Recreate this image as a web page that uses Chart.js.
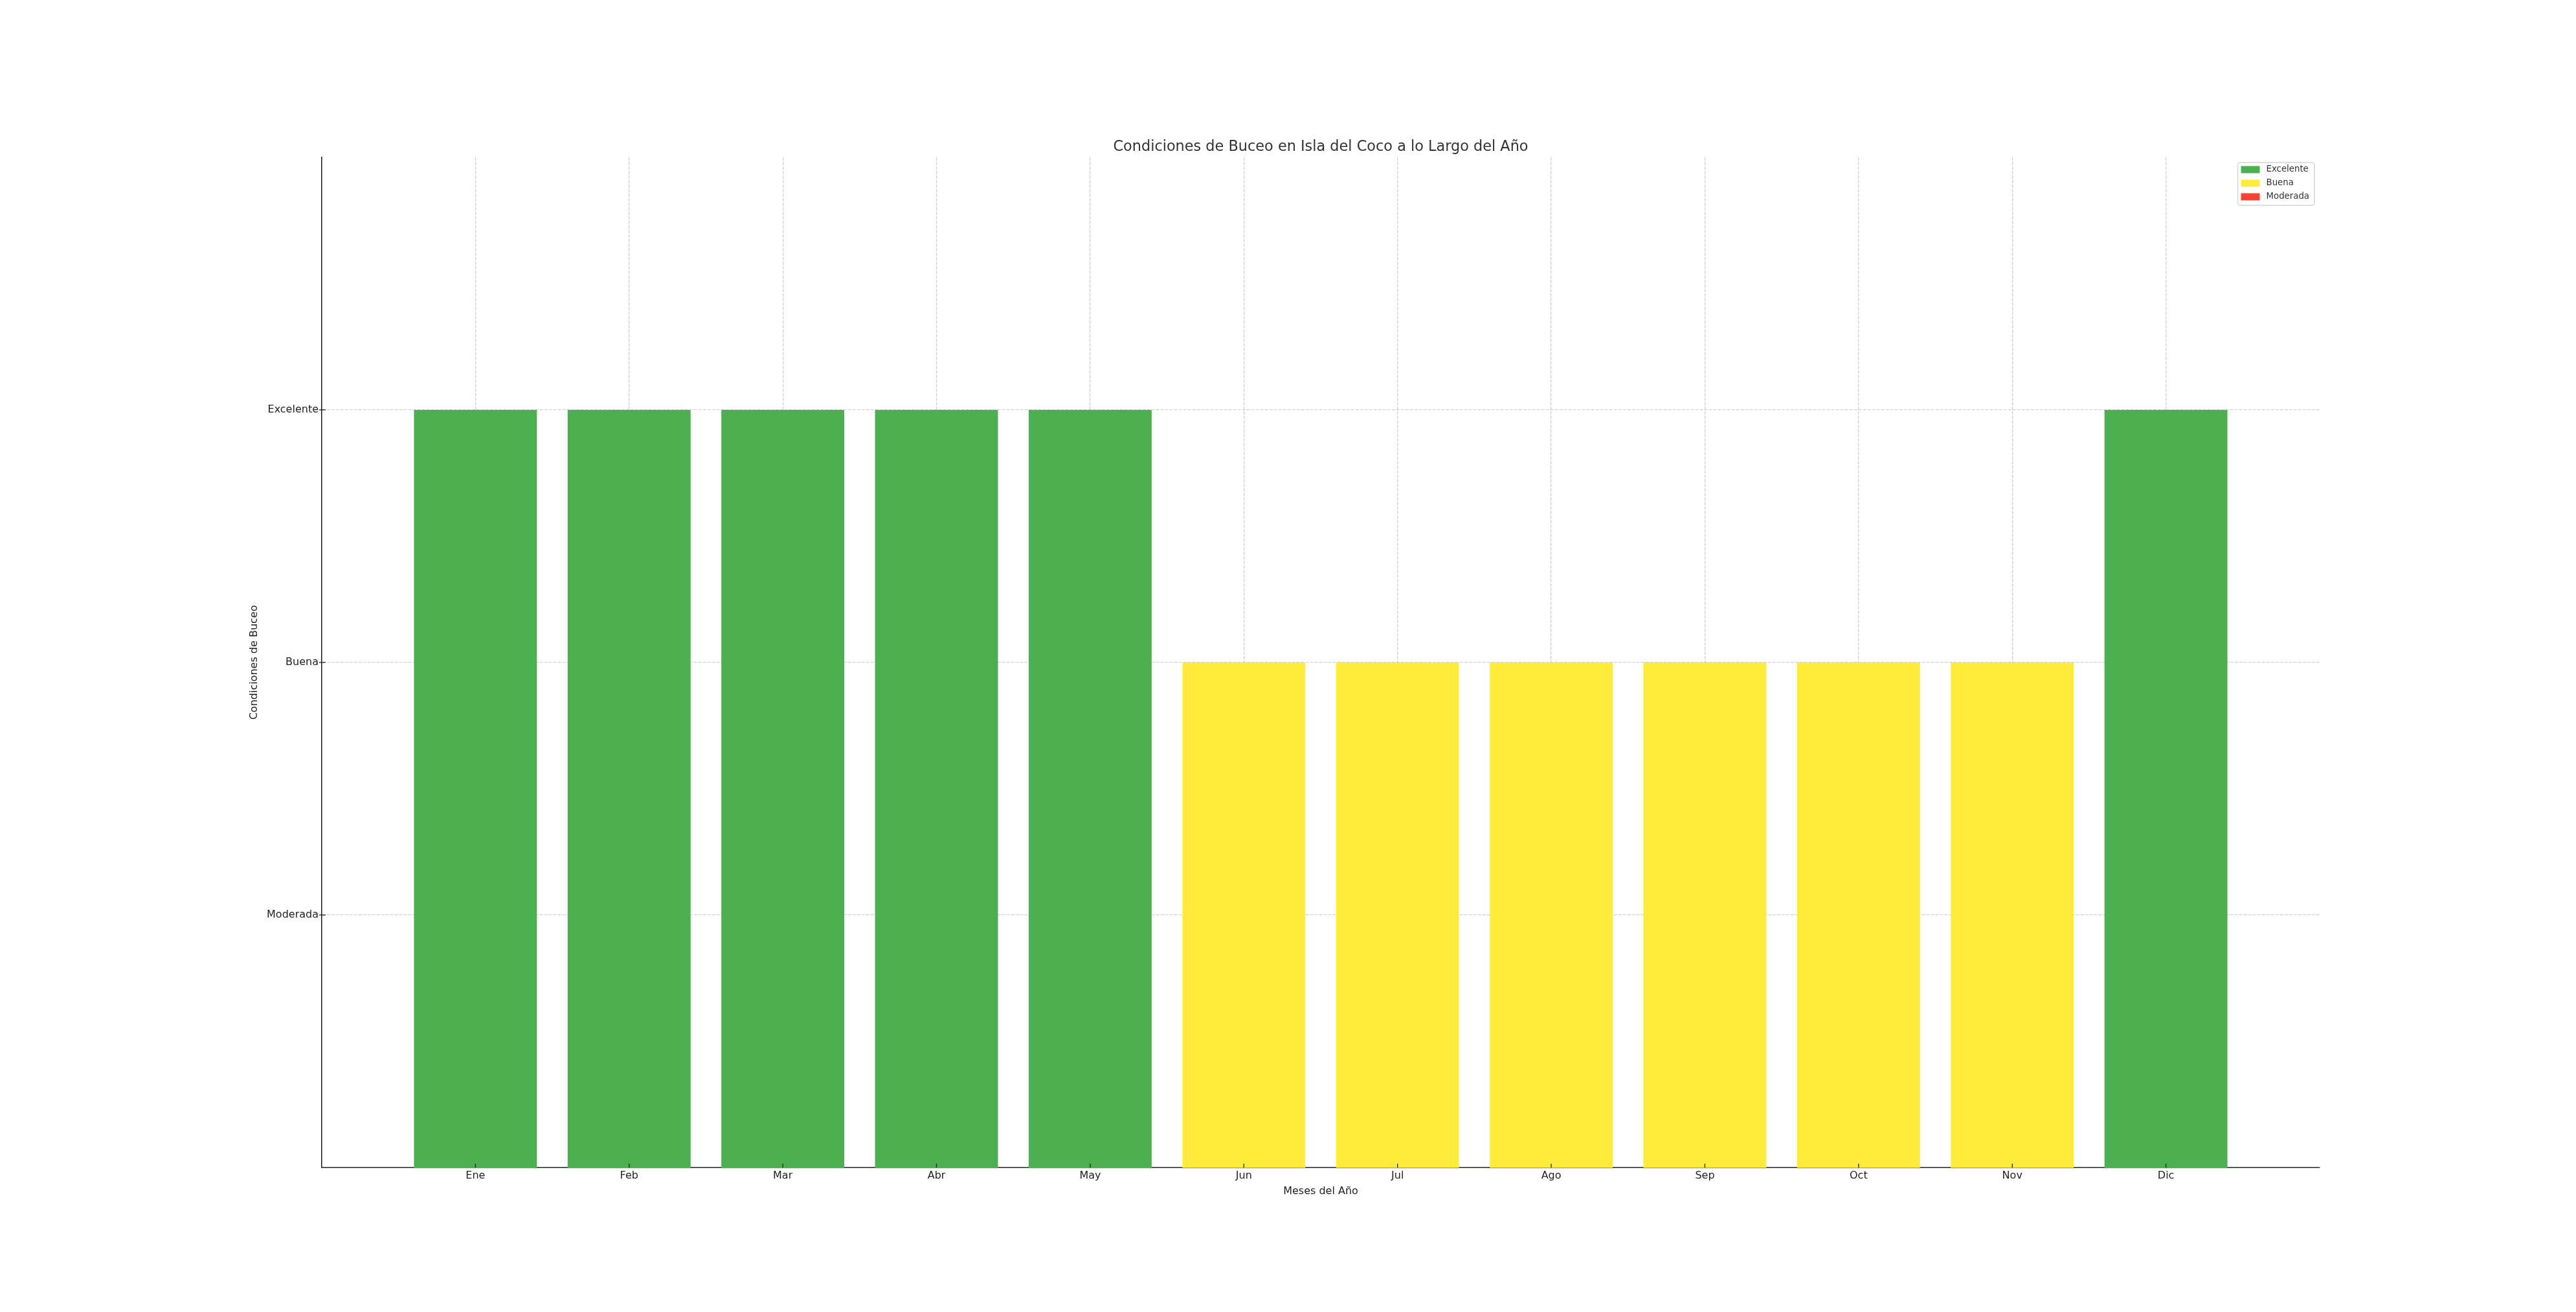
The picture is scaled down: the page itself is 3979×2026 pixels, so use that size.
<!DOCTYPE html>
<html>
<head>
<meta charset="utf-8">
<title>Condiciones de Buceo en Isla del Coco</title>
<script src="https://cdn.jsdelivr.net/npm/chart.js@4.4.1/dist/chart.umd.min.js"></script>
<style>
  html, body { margin: 0; padding: 0; background: #fff; }
  #contenedor { width: 3979px; height: 2026px; }
</style>
</head>
<body>
<div id="contenedor"><canvas id="graficoBuceo" width="3979" height="2026"></canvas></div>
<script>
// datos del grafico
const meses = ['Ene', 'Feb', 'Mar', 'Abr', 'May', 'Jun', 'Jul', 'Ago', 'Sep', 'Oct', 'Nov', 'Dic'];
const niveles = ['Moderada', 'Buena', 'Excelente']; // valores 1, 2, 3 en el eje y
const condicionPorMes = ['Excelente', 'Excelente', 'Excelente', 'Excelente', 'Excelente',
    'Buena', 'Buena', 'Buena', 'Buena', 'Buena', 'Buena', 'Excelente'];
const ordenLeyenda = ['Excelente', 'Buena', 'Moderada'];
const colores = { Excelente: '#4CAF50', Buena: '#FFEB3B', Moderada: '#F44336' };

Chart.defaults.font.family = "'DejaVu Sans', sans-serif";

function datosDeNivel(nivel) {
    const valor = niveles.indexOf(nivel) + 1;
    return condicionPorMes
        .map((c, i) => c === nivel ? { x: i, y: valor } : null)
        .filter(p => p !== null);
}

// leyenda dentro del area del grafico, arriba a la derecha
const leyendaInterna = {
    id: 'leyendaInterna',
    afterDraw(chart) {
        const { ctx, chartArea } = chart;
        const items = chart.data.datasets;
        ctx.save();
        ctx.font = "13.3px 'DejaVu Sans'";
        const anchoTexto = Math.max(...items.map(d => ctx.measureText(d.label).width));
        const ancho = 5 + 29 + 10 + anchoTexto + 8;
        const alto = 66;
        const x = chartArea.right - 8 - ancho;
        const y = chartArea.top + 8;
        ctx.fillStyle = 'rgba(255,255,255,0.8)';
        ctx.strokeStyle = '#d4d4d4';
        ctx.lineWidth = 1.5;
        ctx.beginPath();
        ctx.roundRect(x, y, ancho, alto, 4);
        ctx.fill();
        ctx.stroke();
        ctx.textBaseline = 'middle';
        items.forEach((d, i) => {
            const cy = y + 11 + i * 21;
            ctx.fillStyle = d.backgroundColor;
            ctx.fillRect(x + 5, cy - 5.5, 29, 11);
            ctx.fillStyle = '#333';
            ctx.fillText(d.label, x + 44, cy);
        });
        ctx.restore();
    }
};

// marcas de los ticks hacia adentro, como en el original
const marcasTicks = {
    id: 'marcasTicks',
    afterDraw(chart) {
        const { ctx, chartArea, scales } = chart;
        ctx.save();
        ctx.strokeStyle = '#222';
        ctx.lineWidth = 1.3;
        scales.x.ticks.forEach((t, i) => {
            const px = scales.x.getPixelForTick(i);
            ctx.beginPath();
            ctx.moveTo(px, chartArea.bottom);
            ctx.lineTo(px, chartArea.bottom - 6);
            ctx.stroke();
        });
        scales.y.ticks.forEach((t, i) => {
            const py = scales.y.getPixelForTick(i);
            ctx.beginPath();
            ctx.moveTo(chartArea.left - 4, py);
            ctx.lineTo(chartArea.left + 6, py);
            ctx.stroke();
        });
        ctx.restore();
    }
};

const ctx = document.getElementById('graficoBuceo').getContext('2d');
new Chart(ctx, {
    type: 'bar',
    data: {
        datasets: ordenLeyenda.map(nivel => ({
            label: nivel,
            data: datosDeNivel(nivel),
            backgroundColor: colores[nivel],
            borderWidth: 0,
            grouped: false,
            barPercentage: 0.8,
            categoryPercentage: 1
        }))
    },
    options: {
        responsive: false,
        devicePixelRatio: 1,
        animation: false,
        layout: { padding: { left: 383.4, right: 396, top: 213.5, bottom: 176.4 } },
        plugins: {
            legend: { display: false },
            tooltip: { enabled: false },
            title: {
                display: true,
                fullSize: false,
                text: 'Condiciones de Buceo en Isla del Coco a lo Largo del Año',
                color: '#333',
                font: { size: 22.4, weight: 'normal' },
                padding: { top: 0, bottom: 2.5 }
            }
        },
        scales: {
            x: {
                type: 'linear',
                min: -1,
                max: 12,
                offset: false,
                z: 1,
                afterBuildTicks: s => { s.ticks = meses.map((m, i) => ({ value: i })); },
                afterFit: s => { s.height = 46.6; },
                ticks: {
                    callback: v => meses[v] ?? '',
                    color: '#222',
                    font: { size: 16 },
                    padding: 3.4,
                    maxRotation: 0,
                    autoSkip: false
                },
                grid: { color: 'rgba(170,170,170,0.55)', lineWidth: 1.3, drawTicks: false, offset: false },
                border: { display: true, color: '#222', width: 1.6, dash: [5, 2] },
                title: { display: true, text: 'Meses del Año', color: '#222', font: { size: 16 }, padding: 0 }
            },
            y: {
                min: 0,
                max: 4,
                z: 1,
                afterBuildTicks: s => { s.ticks = niveles.map((n, i) => ({ value: i + 1 })); },
                afterFit: s => { s.width = 113.6; },
                ticks: {
                    callback: v => niveles[v - 1] ?? '',
                    color: '#222',
                    font: { size: 16 },
                    padding: 5
                },
                grid: { color: 'rgba(170,170,170,0.55)', lineWidth: 1.3, drawTicks: false },
                border: { display: true, color: '#222', width: 1.6, dash: [5, 2] },
                title: { display: true, text: 'Condiciones de Buceo', color: '#222', font: { size: 16 }, padding: 0 }
            }
        }
    },
    plugins: [leyendaInterna, marcasTicks]
});
</script>
</body>
</html>
